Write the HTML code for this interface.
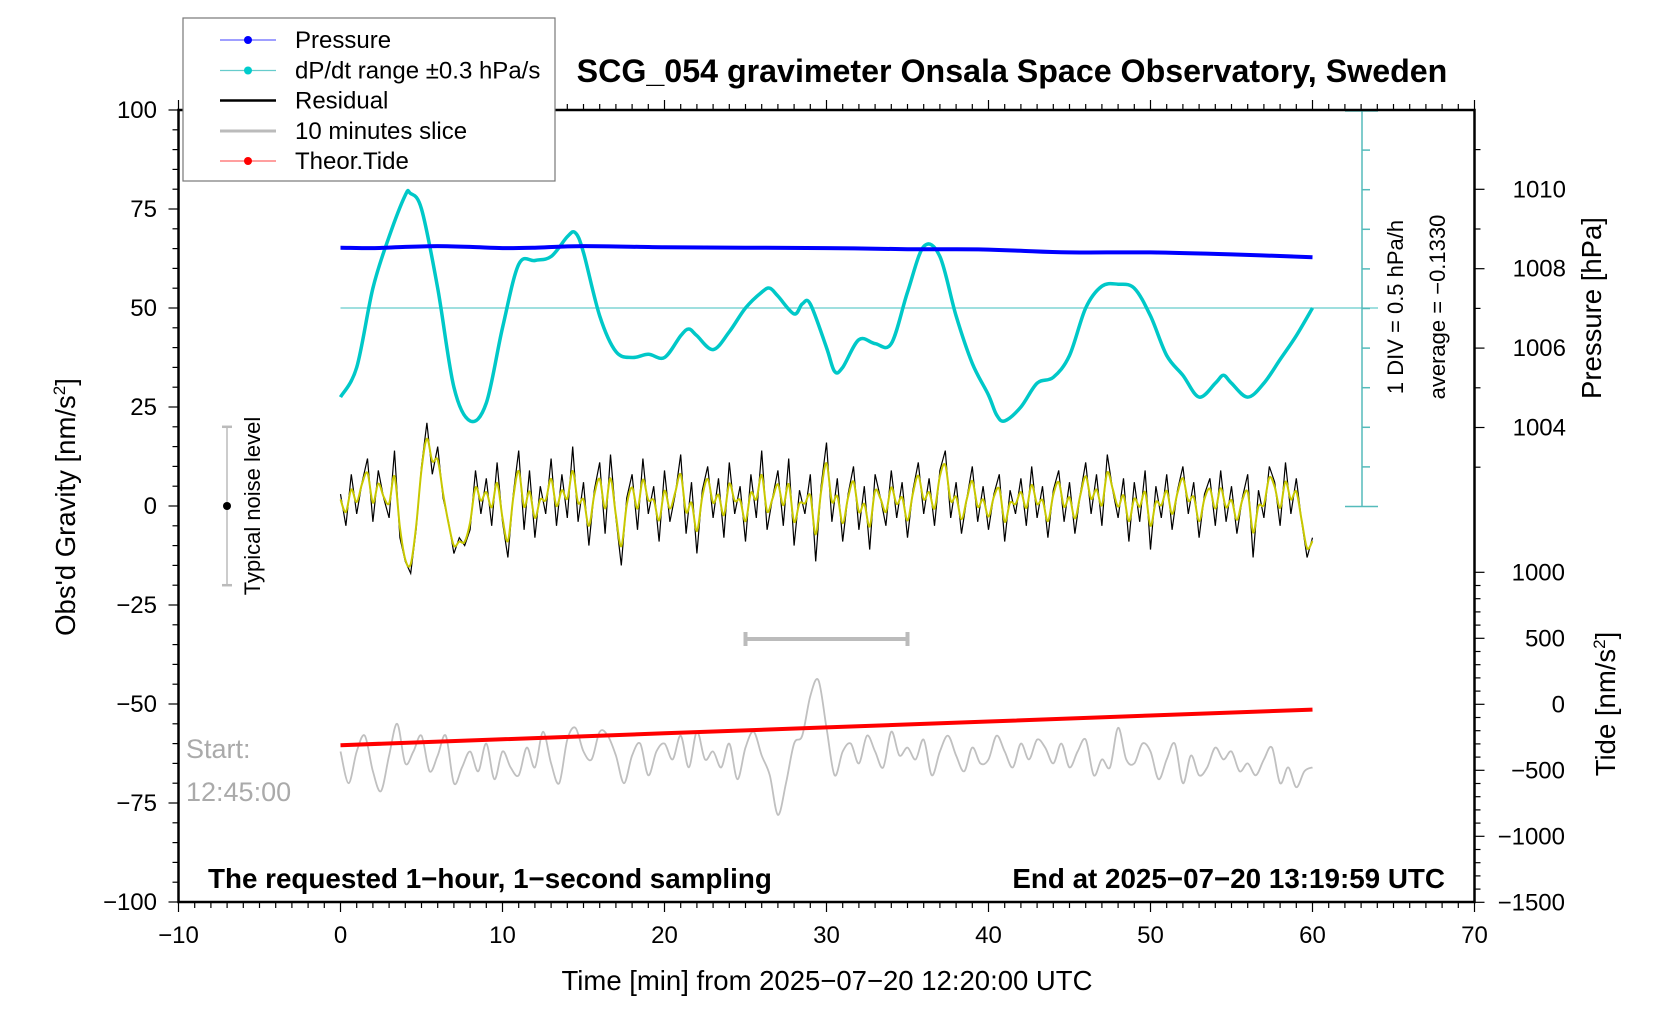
<!DOCTYPE html>
<html><head><meta charset="utf-8"><style>
body{margin:0;background:#fff}
svg{display:block;font-family:"Liberation Sans",sans-serif}
</style></head><body>
<svg id="chart" width="1676" height="1020" viewBox="0 0 1676 1020" xmlns="http://www.w3.org/2000/svg">
<rect width="1676" height="1020" fill="#fff"/>
<g id="marks"></g>
<g id="axes"></g>
<text x="1012" y="82" text-anchor="middle" font-size="32.2" font-weight="bold">SCG_054 gravimeter Onsala Space Observatory, Sweden</text>
<text x="208" y="888" font-size="27.8" font-weight="bold">The requested 1−hour, 1−second sampling</text>
<text x="1445" y="888" text-anchor="end" font-size="27.8" font-weight="bold">End at 2025−07−20 13:19:59 UTC</text>
<text x="186" y="758" font-size="27" fill="#aaa">Start:</text>
<text x="186" y="801" font-size="27" fill="#aaa">12:45:00</text>
<text x="827" y="990" text-anchor="middle" font-size="27.5">Time [min] from 2025−07−20 12:20:00 UTC</text>
<text transform="translate(75,507) rotate(-90)" text-anchor="middle" font-size="27.5">Obs'd Gravity [nm/s<tspan font-size="17" dy="-10">2</tspan><tspan dy="10">]</tspan></text>
<text transform="translate(1601,308) rotate(-90)" text-anchor="middle" font-size="27.5">Pressure [hPa]</text>
<text transform="translate(1615,704) rotate(-90)" text-anchor="middle" font-size="27.5">Tide [nm/s<tspan font-size="17" dy="-10">2</tspan><tspan dy="10">]</tspan></text>
<text transform="translate(1403,307) rotate(-90)" text-anchor="middle" font-size="22">1 DIV = 0.5 hPa/h</text>
<text transform="translate(1445,307) rotate(-90)" text-anchor="middle" font-size="22">average = −0.1330</text>
<text transform="translate(260,506) rotate(-90)" text-anchor="middle" font-size="22">Typical noise level</text>
<g>
<rect x="183" y="18" width="372" height="163" fill="#fff" stroke="#777" stroke-width="1.2"/>
<g><line x1="220" y1="40" x2="276" y2="40" stroke="#6666ff" stroke-width="1.2"/><circle cx="248" cy="40" r="4" fill="#0000ff"/><text x="295" y="48" font-size="24">Pressure</text></g>
<g><line x1="220" y1="70.5" x2="276" y2="70.5" stroke="#66cccc" stroke-width="1.2"/><circle cx="248" cy="70.5" r="4" fill="#00cccc"/><text x="295" y="78.5" font-size="24">dP/dt range ±0.3 hPa/s</text></g>
<g><line x1="220" y1="100.5" x2="276" y2="100.5" stroke="#000" stroke-width="2.5"/><text x="295" y="108.5" font-size="24">Residual</text></g>
<g><line x1="220" y1="131" x2="276" y2="131" stroke="#bbb" stroke-width="3"/><text x="295" y="139" font-size="24">10 minutes slice</text></g>
<g><line x1="220" y1="161" x2="276" y2="161" stroke="#ff6666" stroke-width="1.2"/><circle cx="248" cy="161" r="4" fill="#ff0000"/><text x="295" y="169" font-size="24">Theor.Tide</text></g>
</g>
</svg>
<script>
const pressureTimes=[0,2,4,6,8,10,12,15,20,25,30,35,38,40,42,45,50,55,60];
const pressureValues=[1008.53,1008.52,1008.55,1008.57,1008.55,1008.52,1008.53,1008.57,1008.54,1008.53,1008.52,1008.49,1008.49,1008.48,1008.45,1008.41,1008.41,1008.36,1008.29];
const dpdtTimes=[0,1,2,3,4,4.3,5,6,7,8,9,10,11,12,13,14,14.5,15,16,17,18,19,20,21,21.5,22,23,24,25,26,26.5,27,28,28.5,29,30,30.5,31,32,33,34,35,36,37,38,39,40,40.5,41,42,43,44,45,46,47,48,49,50,51,52,53,54,54.5,55,56,57,58,59,60];
const dpdtValues=[27.5,35,55,68,78.5,79,75,55,30,21.5,26,45,61,62,63,68,69,64,48,39,37.5,38.3,37.5,43,44.7,43,39.5,44,50,54,55,53,48.5,51,51,40,34,35,42,41,41,54,65.5,63,48,36,28,23,21.5,25,31,32.5,38,50,55.5,56,55,48,38,33,27.5,31,33,31,27.5,31,37,43,50];
const residualValues=[3,-5,8,-2,6,12,-4,9,2,-3,14,-8,-14,-17,-6,10,21,8,15,2,-4,-12,-8,-10,-6,9,-2,7,-5,11,-4,-13,3,14,-6,9,-8,5,-2,12,-5,8,-3,15,-4,6,-10,4,11,-7,13,-3,-15,2,8,-6,12,-2,5,-9,9,-4,3,13,-7,6,-12,4,10,-3,7,-8,11,-2,5,-9,8,-3,14,-6,2,9,-5,12,-10,4,-2,8,-14,5,16,-4,7,-9,3,10,-6,5,-11,8,2,-5,9,-3,6,-8,4,11,-2,7,-5,9,14,-3,6,-7,2,10,-4,5,-6,3,8,-9,4,-2,7,-5,10,-3,5,-8,4,9,-4,6,-7,3,11,-2,8,-5,13,4,-3,7,-9,6,-4,9,-11,5,-3,8,-6,4,10,-2,6,-8,3,7,-5,9,-4,5,-7,2,8,-13,4,-3,10,6,-5,11,-2,7,-4,-13,-8];
const sliceValues=[-62,-70,-62,-58,-67,-72,-63,-55,-65,-62,-58,-67,-63,-58,-70,-66,-62,-67,-60,-69,-62,-66,-68,-61,-66,-57,-65,-70,-59,-56,-62,-64,-57,-58,-63,-70,-63,-60,-68,-62,-60,-64,-58,-66,-57,-64,-62,-66,-60,-69,-61,-57,-63,-68,-78,-70,-60,-58,-48,-44,-56,-68,-62,-60,-65,-58,-62,-66,-57,-63,-61,-64,-59,-68,-62,-58,-63,-67,-61,-65,-64,-58,-62,-66,-60,-64,-59,-61,-65,-60,-66,-62,-59,-68,-64,-66,-56,-64,-65,-60,-62,-69,-64,-60,-70,-63,-68,-66,-61,-64,-62,-67,-65,-68,-64,-61,-70,-66,-71,-67,-66];
const tideTimes=[0,10,20,30,40,50,60];
const tideValues=[-310,-265,-220,-175,-130,-85,-40];
const xTicks=[-10,0,10,20,30,40,50,60,70];
const yTicks=[100,75,50,25,0,-25,-50,-75,-100];
const pressureTicks=[1010,1008,1006,1004];
const tideTicks=[1000,500,0,-500,-1000,-1500];

const NS="http://www.w3.org/2000/svg";
const X=t=>178.5+(t+10)*16.2;
const Y=g=>506-g*3.96;
const YP=p=>189.3+(1010-p)*39.7;
const YT=v=>704.3-v*0.132;
const marks=document.getElementById('marks');
const axes=document.getElementById('axes');
function mk(tag,attrs,parent){const e=document.createElementNS(NS,tag);for(const k in attrs)e.setAttribute(k,attrs[k]);parent.appendChild(e);return e;}
function pts(xs,ys){return xs.map((x,i)=>x.toFixed(1)+','+ys[i].toFixed(1)).join(' ');}
function spline(xs,ys){let d='M'+xs[0].toFixed(1)+','+ys[0].toFixed(1);const n=xs.length;
for(let i=0;i<n-1;i++){const x0=xs[Math.max(0,i-1)],y0=ys[Math.max(0,i-1)],x1=xs[i],y1=ys[i],x2=xs[i+1],y2=ys[i+1],x3=xs[Math.min(n-1,i+2)],y3=ys[Math.min(n-1,i+2)];
d+=' C'+(x1+(x2-x0)/6).toFixed(1)+','+(y1+(y2-y0)/6).toFixed(1)+' '+(x2-(x3-x1)/6).toFixed(1)+','+(y2-(y3-y1)/6).toFixed(1)+' '+x2.toFixed(1)+','+y2.toFixed(1);}
return d;}

const L=X(-10),R=X(70),T=Y(100),B=Y(-100);

let e=mk('line',{x1:X(0),y1:Y(50),x2:1378,y2:Y(50),stroke:'#66cccc','stroke-width':1.3},marks);


e=mk('g',{stroke:'#55bbbb','stroke-width':1.5},marks);


mk('line',{x1:1362,y1:T,x2:1362,y2:506.5},e);
mk('line',{x1:1345,y1:506.5,x2:1378,y2:506.5},e);
mk('line',{x1:1345,y1:T+1,x2:1378,y2:T+1},e);
for(let k=1;k<10;k++){const yy=506.5-k*39.6;mk('line',{x1:1362,y1:yy,x2:1370,y2:yy},e);}

e=mk('g',{},marks);


mk('line',{x1:227,y1:Y(20),x2:227,y2:Y(-20),stroke:'#bbb','stroke-width':1.5},e);
mk('line',{x1:222,y1:Y(20),x2:232,y2:Y(20),stroke:'#bbb','stroke-width':2.5},e);
mk('line',{x1:222,y1:Y(-20),x2:232,y2:Y(-20),stroke:'#bbb','stroke-width':2.5},e);
mk('circle',{cx:227,cy:Y(0),r:4,fill:'#000'},e);

e=mk('g',{stroke:'#bbb','stroke-width':4},marks);


mk('line',{x1:X(25),y1:639,x2:X(35),y2:639},e);
mk('line',{x1:X(25),y1:632,x2:X(25),y2:646},e);
mk('line',{x1:X(35),y1:632,x2:X(35),y2:646},e);

e=mk('path',{d:spline(sliceValues.map((v,i)=>X(i*0.5)),sliceValues.map(Y)),fill:'none',stroke:'#c0c0c0','stroke-width':1.8,'stroke-linejoin':'round'},marks);



e=mk('polyline',{points:pts(tideTimes.map(X),tideValues.map(YT)),fill:'none',stroke:'#ff0000','stroke-width':4},marks);



const rx=residualValues.map((v,i)=>X(i/3));
e=mk('polyline',{points:pts(rx,residualValues.map(Y)),fill:'none',stroke:'#000','stroke-width':1.2},marks);


const smooth=residualValues.map((v,i)=>{const a=residualValues[Math.max(0,i-1)],b=residualValues[Math.min(residualValues.length-1,i+1)];return (a+4*v+b)/6;});
e=mk('path',{d:spline(rx,smooth.map(Y)),fill:'none',stroke:'#c8c800','stroke-width':2},marks);



e=mk('path',{d:spline(dpdtTimes.map(X),dpdtValues.map(Y)),fill:'none',stroke:'#00c8c8','stroke-width':3.5,'stroke-linejoin':'round'},marks);



e=mk('path',{d:spline(pressureTimes.map(X),pressureValues.map(YP)),fill:'none',stroke:'#0000ff','stroke-width':4},marks);



e=mk('rect',{x:L,y:T,width:R-L,height:B-T,fill:'none',stroke:'#000','stroke-width':2.5},axes);


const tk=mk('g',{stroke:'#000','stroke-width':1.2},axes);


for(let t=-10;t<=70;t++){const len=t%10===0?10:6;mk('line',{x1:X(t),y1:B,x2:X(t),y2:B+len},tk);mk('line',{x1:X(t),y1:T,x2:X(t),y2:T-len},tk);}
for(let g=-100;g<=100;g+=5){const len=g%25===0?10:6;mk('line',{x1:L,y1:Y(g),x2:L-len,y2:Y(g)},tk);}
for(let v=-1500;v<=1000;v+=100){const len=v%500===0?10:6;mk('line',{x1:R,y1:YT(v),x2:R+len,y2:YT(v)},tk);}
for(let p=1003;p<=1011;p+=1){const len=p%2===0?10:6;const yy=YP(p);if(yy>T&&yy<510)mk('line',{x1:R,y1:yy,x2:R+len,y2:yy},tk);}
xTicks.forEach(t=>{const s=mk('text',{x:X(t),y:943,'text-anchor':'middle','font-size':24},axes);s.textContent=t<0?'−'+(-t):String(t);

});
yTicks.forEach(g=>{const s=mk('text',{x:157,y:Y(g)+8,'text-anchor':'end','font-size':24},axes);s.textContent=g<0?'−'+(-g):String(g);

});
pressureTicks.forEach(p=>{const s=mk('text',{x:1566,y:YP(p)+8,'text-anchor':'end','font-size':24},axes);s.textContent=String(p);

});
tideTicks.forEach(v=>{const s=mk('text',{x:1565,y:YT(v)+8,'text-anchor':'end','font-size':24},axes);s.textContent=v<0?'−'+(-v):String(v);

});
</script>
</body></html>
